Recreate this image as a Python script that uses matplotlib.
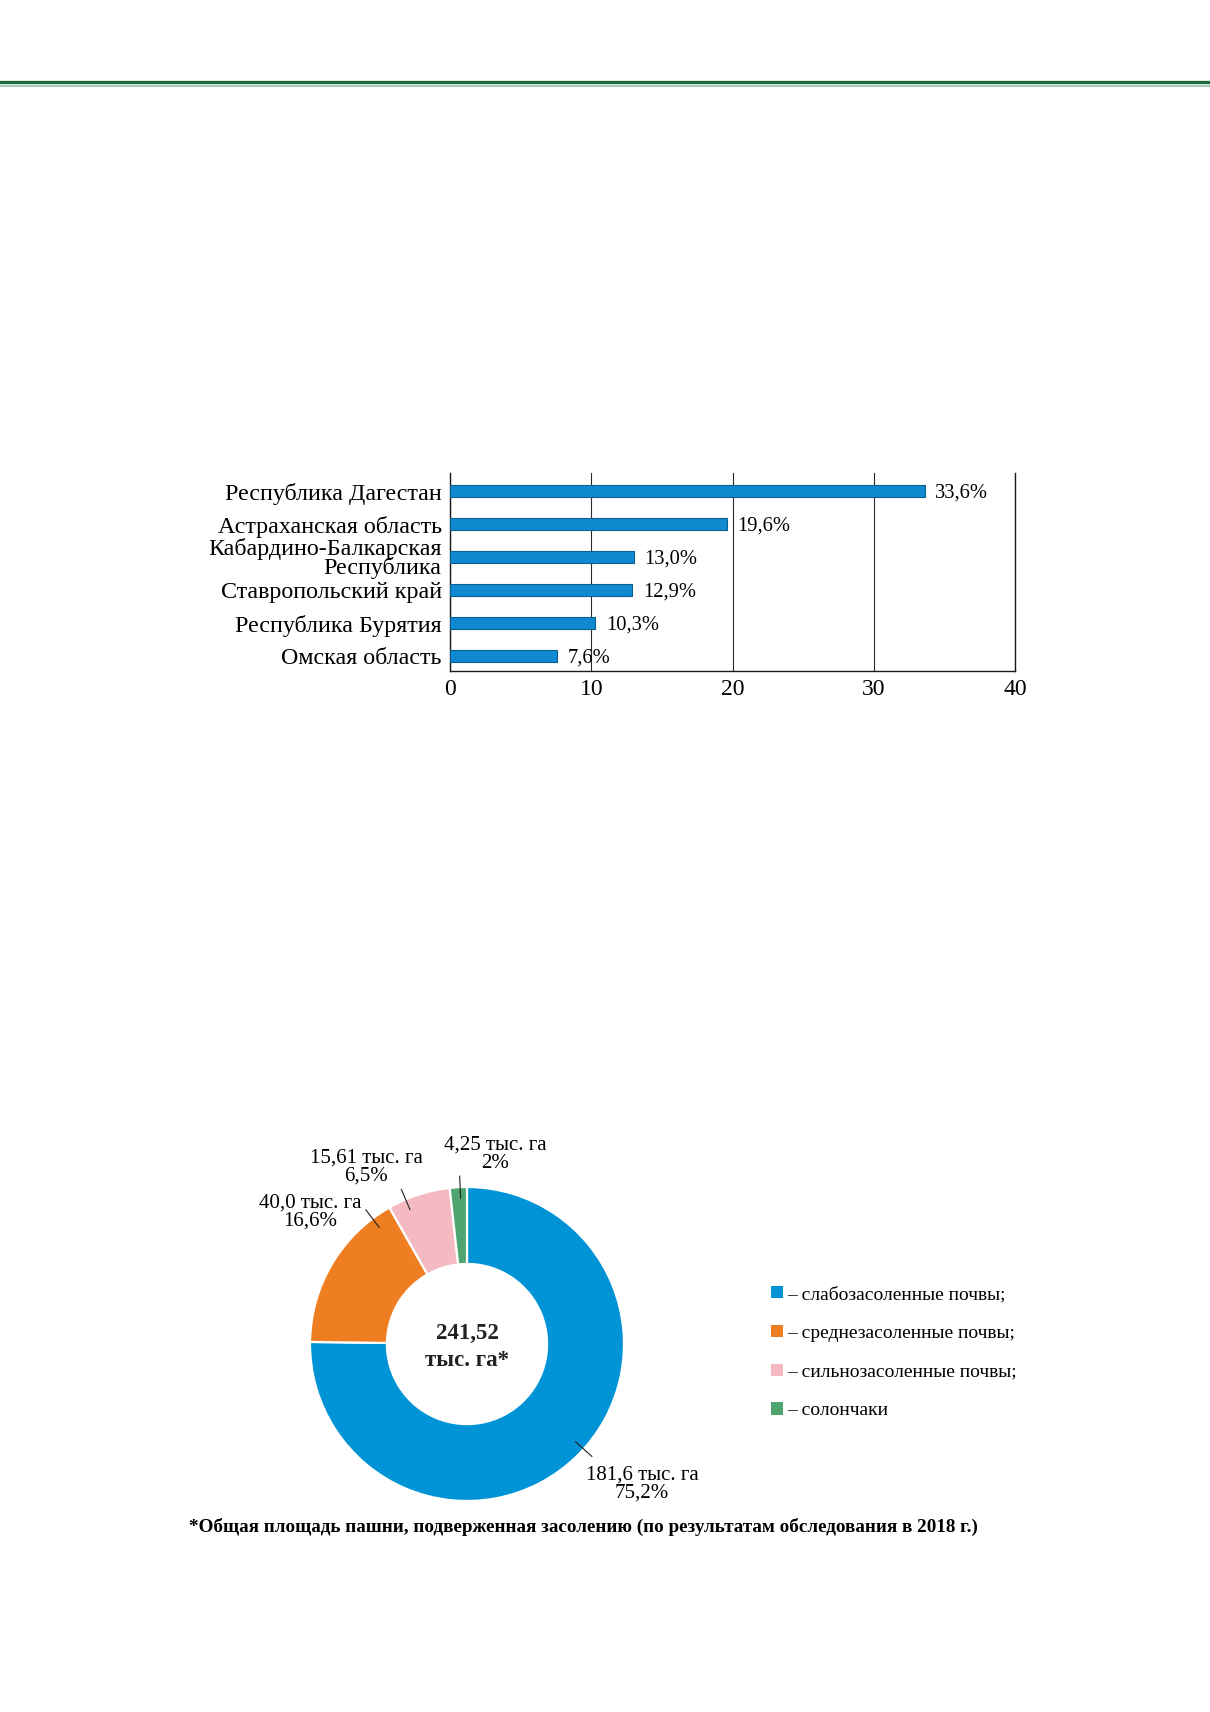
import numpy as np
import matplotlib
matplotlib.use("Agg")
from matplotlib import pyplot as plt
from matplotlib.patches import Patch
from matplotlib.lines import Line2D

plt.rcParams['font.family'] = ['Liberation Serif', 'DejaVu Serif']

# --- data: share of saline arable land by region, % ---
regions = ['Республика Дагестан', 'Астраханская область',
           'Кабардино-Балкарская\nРеспублика', 'Ставропольский край',
           'Республика Бурятия', 'Омская область']
region_share = [33.6, 19.6, 13.0, 12.9, 10.3, 7.6]
share_labels = ['33,6%', '19,6%', '13,0%', '12,9%', '10,3%', '7,6%']
x_ticks = [0, 10, 20, 30, 40]

# --- data: arable land by salinity degree, thousand ha ---
soil_types = ['слабозасоленные почвы;', 'среднезасоленные почвы;',
              'сильнозасоленные почвы;', 'солончаки']
soil_area = [181.6, 40.0, 15.61, 4.25]
soil_labels = ['181,6 тыс. га\n75,2%', '40,0 тыс. га\n16,6%',
               '15,61 тыс. га\n6,5%', '4,25 тыс. га\n2%']
total_label = '241,52\nтыс. га*'
footnote = '*Общая площадь пашни, подверженная засолению (по результатам обследования в 2018 г.)'

soil_colors = ['#0093d5', '#ef7d22', '#f4b9c1', '#4fa56f']
bar_color = '#0f8ad0'

W, H = 1210, 1712
fig = plt.figure(figsize=(W / 100, H / 100), dpi=100)

# header rule
fig.add_artist(Line2D([0, 1], [1 - 81.5 / H] * 2, color='#1b6d3d', lw=2.4))
fig.add_artist(Line2D([0, 1], [1 - 85.5 / H] * 2, color='#93c2a3', lw=1.2))

# --- horizontal bar chart ---
ax = fig.add_axes([450 / W, 1 - 671 / H, 565 / W, 198 / H])
ypos = np.arange(len(regions))
ax.barh(ypos, region_share, height=0.36, color=bar_color,
        edgecolor='#0b5f90', linewidth=0.8, zorder=3)
for y, v, lab in zip(ypos, region_share, share_labels):
    ax.text(v + 0.75, y + 0.05, lab, va='center', ha='left', fontsize=14.8, zorder=4)
ax.set_xlim(0, 40)
ax.set_ylim(5.45, -0.55)
ax.set_xticks(x_ticks)
ax.set_yticks(ypos)
ax.set_yticklabels(regions, fontsize=17.3, linespacing=0.82)
for t in ax.get_yticklabels():
    t.set_y(t.get_position()[1])
ax.tick_params(axis='x', labelsize=17, length=0, pad=6)
ax.tick_params(axis='y', length=0, pad=6)
ax.xaxis.grid(True, color='#2a2a2a', lw=0.8)
ax.set_axisbelow(True)
ax.spines['top'].set_visible(False)
for s in ['left', 'bottom', 'right']:
    ax.spines[s].set_color('#1a1a1a')
    ax.spines[s].set_linewidth(1.0)

# --- donut chart ---
R = 157
pax = fig.add_axes([(467 - R) / W, 1 - (1344 + R) / H, 2 * R / W, 2 * R / H])
wedges, _ = pax.pie(soil_area, colors=soil_colors, startangle=90,
                    counterclock=False, radius=1.0,
                    wedgeprops=dict(width=0.49, edgecolor='white', linewidth=1.6))
pax.set_xlim(-1, 1)
pax.set_ylim(-1, 1)
pax.text(0, -0.02, total_label, ha='center', va='center', fontsize=16.5,
         fontweight='bold', linespacing=1.35, color='#222222')

leader_angles = [-42, 127, 113, 92.5]
label_xy = [(1.115, -0.892), (-1.0, 0.841), (-0.643, 1.127), (0.178, 1.21)]
for ang, (tx, ty), lab in zip(leader_angles, label_xy, soil_labels):
    a = np.deg2rad(ang)
    pax.plot([0.93 * np.cos(a), 1.07 * np.cos(a)], [0.93 * np.sin(a), 1.07 * np.sin(a)],
             color='#222222', lw=0.8, clip_on=False)
    pax.text(tx, ty, lab, ha='center', va='center', fontsize=15,
             linespacing=0.95, clip_on=False)

handles = [Patch(facecolor=c, edgecolor='none') for c in soil_colors]
fig.legend(handles, ['– ' + t for t in soil_types], loc='upper left',
           bbox_to_anchor=(771 / W, 1 - 1286 / H), frameon=False,
           fontsize=14, handlelength=0.6, handleheight=0.6, handletextpad=0.25,
           labelspacing=1.12, borderpad=0, borderaxespad=0)

fig.text(583 / W, 1 - 1527 / H, footnote, ha='center', va='center',
         fontsize=13.75, fontweight='bold')

plt.savefig('out.png', dpi=100)
